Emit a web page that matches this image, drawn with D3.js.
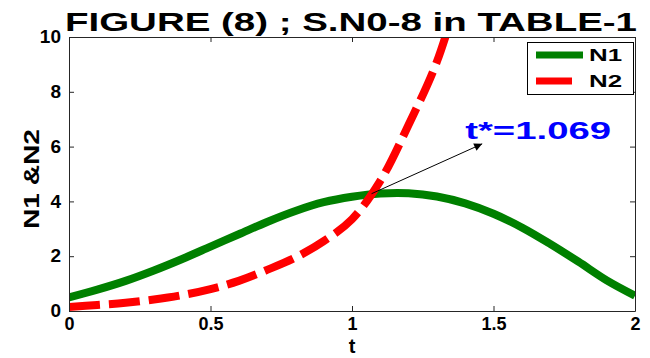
<!DOCTYPE html>
<html>
<head>
<meta charset="utf-8">
<script src="https://cdn.jsdelivr.net/npm/d3@7"></script>
<style>
  html, body { margin: 0; padding: 0; background: #fff; }
  svg { display: block; }
  text { font-family: "Liberation Sans", Arial, Helvetica, sans-serif; font-weight: bold; }
</style>
</head>
<body>
<svg id="chart" width="650" height="358"></svg>
<script>
// Time grid and the two population curves
const tValues  = [0, 0.1, 0.2, 0.3, 0.4, 0.5, 0.6, 0.7, 0.8, 0.9, 1.0, 1.1, 1.2, 1.3, 1.4, 1.5, 1.6, 1.7, 1.8, 1.9, 2.0];
const n1Values = [0.5, 0.78, 1.1, 1.48, 1.9, 2.35, 2.8, 3.25, 3.65, 3.97, 4.17, 4.29, 4.3, 4.18, 3.93, 3.55, 3.05, 2.45, 1.8, 1.12, 0.56];
const n2Tvalues = [0, 0.1, 0.2, 0.3, 0.4, 0.5, 0.6, 0.7, 0.8, 0.9, 1.0, 1.1, 1.2, 1.3, 1.4];
const n2Values = [0.15, 0.22, 0.3, 0.42, 0.58, 0.8, 1.1, 1.5, 1.95, 2.55, 3.35, 4.75, 6.8, 9.1, 12.4];

const xTicks = [0, 0.5, 1, 1.5, 2];
const xTickLabels = ["0", "0.5", "1", "1.5", "2"];
const yTicks = [0, 2, 4, 6, 8, 10];
const yTickLabels = ["0", "2", "4", "6", "8", "10"];

const seriesNames = ["N1", "N2"];
const titleText = "FIGURE (8) ; S.N0-8 in TABLE-1";
const xLabel = "t";
const yLabel = "N1 &N2";

// Crossing point annotation
const crossT = 1.069;
const crossN = 4.28;
const arrowTip = [1.46, 6.1];
const noteText = "t*=1.069";
const notePos = [1.40, 6.28];

const svg = d3.select("#chart");
const plot = { left: 69, right: 635, top: 37, bottom: 311 };

const x = d3.scaleLinear().domain([0, 2]).range([plot.left, plot.right]);
const y = d3.scaleLinear().domain([0, 10]).range([plot.bottom, plot.top]);

svg.append("defs").append("clipPath").attr("id", "plotClip")
  .append("rect")
  .attr("x", plot.left).attr("y", plot.top)
  .attr("width", plot.right - plot.left).attr("height", plot.bottom - plot.top);

svg.select("defs").append("marker")
  .attr("id", "arrowHead")
  .attr("viewBox", "0 0 10 10")
  .attr("refX", 10).attr("refY", 5)
  .attr("markerWidth", 11).attr("markerHeight", 8)
  .attr("markerUnits", "userSpaceOnUse")
  .attr("orient", "auto")
  .append("path").attr("d", "M0,0 L10,5 L0,10 Z").attr("fill", "#000");

// Curves
const line = d3.line().curve(d3.curveCatmullRom.alpha(0.5));
const curves = svg.append("g").attr("clip-path", "url(#plotClip)");

curves.append("path")
  .attr("d", line(tValues.map((t, i) => [x(t), y(n1Values[i])])))
  .attr("fill", "none")
  .attr("stroke", "#008000")
  .attr("stroke-width", 8);

curves.append("path")
  .attr("d", line(n2Tvalues.map((t, i) => [x(t), y(n2Values[i])])))
  .attr("fill", "none")
  .attr("stroke", "#ff0000")
  .attr("stroke-width", 8)
  .attr("stroke-dasharray", "31,9");

// Axes (box style with inward ticks on all four sides)
const tickLen = 5;
const axisColor = "#262626";

svg.append("g")
  .attr("transform", `translate(0,${plot.bottom})`)
  .call(d3.axisBottom(x).tickValues(xTicks).tickSizeInner(-tickLen).tickSizeOuter(0)
    .tickFormat((d, i) => xTickLabels[i]))
  .call(g => {
    g.select(".domain").attr("stroke", axisColor);
    g.selectAll(".tick line").attr("stroke", axisColor);
    g.selectAll(".tick text").attr("font-size", 18).attr("fill", "#000").attr("dy", 0).attr("y", 19);
  });

svg.append("g")
  .attr("transform", `translate(0,${plot.top})`)
  .call(d3.axisTop(x).tickValues(xTicks).tickSizeInner(-tickLen).tickSizeOuter(0).tickFormat(""))
  .call(g => {
    g.select(".domain").attr("stroke", axisColor);
    g.selectAll(".tick line").attr("stroke", axisColor);
  });

svg.append("g")
  .attr("transform", `translate(${plot.left},0)`)
  .call(d3.axisLeft(y).tickValues(yTicks).tickSizeInner(-tickLen).tickSizeOuter(0)
    .tickFormat((d, i) => yTickLabels[i]))
  .call(g => {
    g.select(".domain").attr("stroke", axisColor);
    g.selectAll(".tick line").attr("stroke", axisColor);
    g.selectAll(".tick text").attr("font-size", 19).attr("fill", "#000").attr("x", -8).attr("dy", "0.3em");
  });

svg.append("g")
  .attr("transform", `translate(${plot.right},0)`)
  .call(d3.axisRight(y).tickValues(yTicks).tickSizeInner(-tickLen).tickSizeOuter(0).tickFormat(""))
  .call(g => {
    g.select(".domain").attr("stroke", axisColor);
    g.selectAll(".tick line").attr("stroke", axisColor);
  });

// Annotation arrow and label
svg.append("line")
  .attr("x1", x(crossT)).attr("y1", y(crossN))
  .attr("x2", x(arrowTip[0])).attr("y2", y(arrowTip[1]))
  .attr("stroke", "#000").attr("stroke-width", 1)
  .attr("marker-end", "url(#arrowHead)");

svg.append("text")
  .attr("x", x(notePos[0])).attr("y", y(notePos[1]))
  .attr("font-size", 23).attr("fill", "#0000ff")
  .attr("textLength", 146).attr("lengthAdjust", "spacingAndGlyphs")
  .text(noteText);

// Legend
const legend = svg.append("g");
legend.append("rect")
  .attr("x", 527.5).attr("y", 42.5).attr("width", 106).attr("height", 52)
  .attr("fill", "#fff").attr("stroke", "#000").attr("stroke-width", 1);
legend.append("line").attr("x1", 536).attr("x2", 583).attr("y1", 55).attr("y2", 55)
  .attr("stroke", "#008000").attr("stroke-width", 7);
legend.append("line").attr("x1", 536).attr("x2", 572).attr("y1", 81).attr("y2", 81)
  .attr("stroke", "#ff0000").attr("stroke-width", 7);
legend.selectAll("text.leg").data(seriesNames).join("text")
  .attr("class", "leg")
  .attr("x", 589).attr("y", (d, i) => 61 + i * 26)
  .attr("font-size", 16).attr("fill", "#000")
  .attr("textLength", 33).attr("lengthAdjust", "spacingAndGlyphs")
  .text(d => d);

// Title and axis labels
svg.append("text")
  .attr("x", 65).attr("y", 31)
  .attr("font-size", 26).attr("fill", "#000")
  .attr("textLength", 572).attr("lengthAdjust", "spacingAndGlyphs")
  .text(titleText);

svg.append("text")
  .attr("x", x(1)).attr("y", 353)
  .attr("text-anchor", "middle")
  .attr("font-size", 20).attr("fill", "#000")
  .text(xLabel);

svg.append("text")
  .attr("transform", `translate(39,${(plot.top + plot.bottom) / 2 + 5}) rotate(-90)`)
  .attr("text-anchor", "middle")
  .attr("font-size", 22).attr("fill", "#000")
  .attr("textLength", 100).attr("lengthAdjust", "spacingAndGlyphs")
  .text(yLabel);
</script>
</body>
</html>
